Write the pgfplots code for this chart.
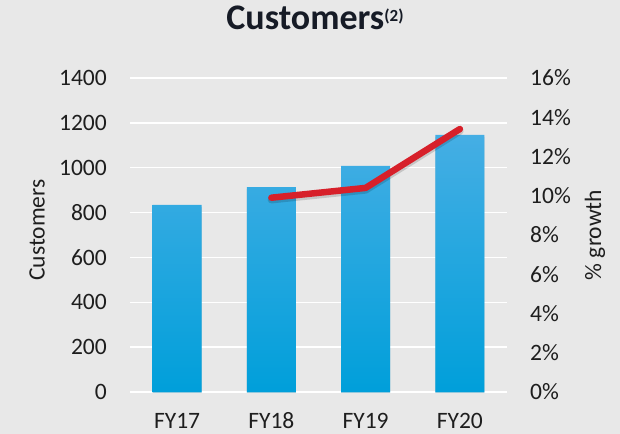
\documentclass[border=0pt]{standalone}
\usepackage{pgfplots}
\pgfplotsset{compat=1.18}
\usepackage{fontspec}
\setmainfont{Carlito}
\usetikzlibrary{shadows}
\definecolor{bg}{HTML}{E8E8E8}
\definecolor{bartop}{HTML}{45AEE4}
\definecolor{barbot}{HTML}{009FDA}
\definecolor{lred}{HTML}{D7202A}
\definecolor{txt}{HTML}{1E1E1E}
\definecolor{ttl}{HTML}{161B26}
\begin{document}
\begin{tikzpicture}
\fill[bg] (-130bp,-42bp) rectangle (490bp,392bp);
\begin{axis}[
  at={(0,0)}, anchor=south west,
  width=377bp, height=314bp, scale only axis,
  xmin=-0.5, xmax=3.5, ymin=0, ymax=1400,
  ytick={0,200,...,1400},
  xtick={0,1,2,3}, xticklabels={FY17,FY18,FY19,FY20},
  axis line style={draw=none}, major tick length=0pt,
  ymajorgrids, grid style={white, line width=1.5bp},
  /pgf/number format/assume math mode=true,
  /pgf/number format/1000 sep={},
  tick label style={font=\fontsize{23.5bp}{28bp}\selectfont, text=txt, inner sep=0pt},
  yticklabel style={anchor=east, xshift=-23bp},
  xticklabel style={anchor=base, yshift=-36bp},
  ylabel={Customers},
  ylabel style={at={(axis description cs:-0.2467,0.516)}, anchor=center, rotate=0, font=\fontsize{23.5bp}{28bp}\selectfont, text=txt},
  title={\textbf{Customers}{\fontsize{17bp}{17bp}\selectfont\bfseries\raisebox{8bp}{(2)}}},
  title style={at={(axis description cs:0.4907,1.137)}, anchor=base, font=\fontsize{36bp}{40bp}\selectfont, text=ttl},
]
\addplot[ybar, bar width=49bp, draw=none, top color=bartop, bottom color=barbot,
  drop shadow={opacity=0.25, shadow xshift=0bp, shadow yshift=-2bp}]
  coordinates {(0,834) (1,914) (2,1008) (3,1146)};
\end{axis}
\begin{axis}[
  at={(0,0)}, anchor=south west,
  width=377bp, height=314bp, scale only axis,
  xmin=-0.5, xmax=3.5, ymin=0, ymax=16,
  axis y line*=right, hide x axis,
  ytick={0,2,...,16},
  axis line style={draw=none}, major tick length=0pt,
  /pgf/number format/assume math mode=true,
  yticklabel={\pgfmathprintnumber{\tick}\%},
  tick label style={font=\fontsize{23.5bp}{28bp}\selectfont, text=txt, inner sep=0pt},
  yticklabel style={anchor=west, xshift=23bp},
  ylabel={\% growth},
  ylabel style={at={(axis description cs:1.2334,0.5)}, anchor=center, rotate=0, font=\fontsize{23.5bp}{28bp}\selectfont, text=txt},
]
\addplot[lred, mark=none, line width=6.5bp, line cap=round, line join=round,
  preaction={draw=black, opacity=0.15, line width=7.5bp, transform canvas={yshift=-2bp}}]
  coordinates {(1,9.9) (2,10.4) (3,13.4)};
\end{axis}
\pgfresetboundingbox
\useasboundingbox (-130bp,-42bp) rectangle (490bp,392bp);
\end{tikzpicture}
\end{document}
